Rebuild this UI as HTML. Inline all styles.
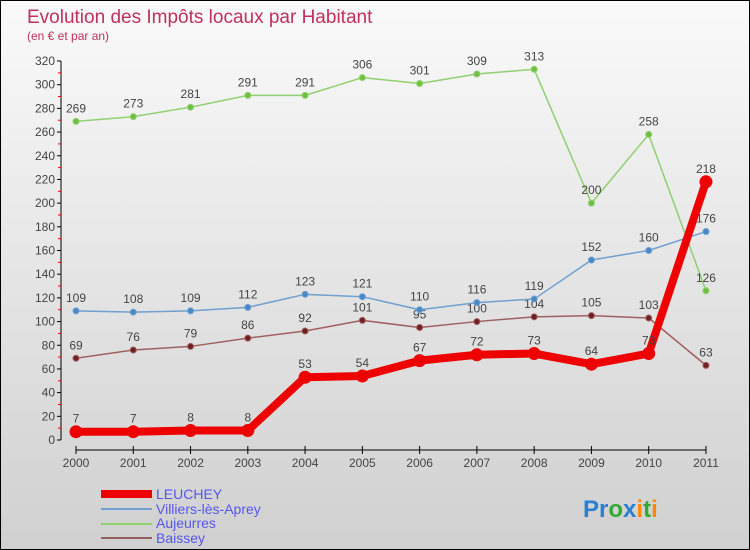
<!DOCTYPE html>
<html><head><meta charset="utf-8"><style>
body{margin:0}
#c{width:750px;height:550px;position:relative;box-sizing:border-box;border:1px solid #000;background:linear-gradient(#fafafa,#d0d0d0);font-family:"Liberation Sans",sans-serif;overflow:hidden}
</style></head><body>
<div id="c">
<svg width="750" height="550" style="position:absolute;left:0;top:0" id="svg">
<text x="26" y="22" font-size="19" fill="#c0305a">Evolution des Impôts locaux par Habitant</text>
<text x="26" y="39" font-size="12" fill="#c0305a">(en € et par an)</text>
<g id="axes"></g><g id="series"></g>
<g>
<rect x="100" y="489" width="51" height="8" fill="#e00"/>
<text x="155" y="498" font-size="14" fill="#5555ee">LEUCHEY</text>
<line x1="100" y1="508" x2="151" y2="508" stroke="#6fa0d0" stroke-width="2"/>
<text x="155" y="513" font-size="14" fill="#5555ee">Villiers-lès-Aprey</text>
<line x1="100" y1="523" x2="151" y2="523" stroke="#8fd070" stroke-width="2"/>
<text x="155" y="527" font-size="14" fill="#5555ee">Aujeurres</text>
<line x1="100" y1="537" x2="151" y2="537" stroke="#906060" stroke-width="2"/>
<text x="155" y="542" font-size="14" fill="#5555ee">Baissey</text>
</g>
<text x="582" y="516" font-size="24" font-weight="bold"><tspan fill="#2a7fd0">Pr</tspan><tspan fill="#3a3">o</tspan><tspan fill="#2a7fd0">x</tspan><tspan fill="#f80">i</tspan><tspan fill="#3a3">t</tspan><tspan fill="#f80">i</tspan></text>
</svg>
</div>
<script>
const years=["2000","2001","2002","2003","2004","2005","2006","2007","2008","2009","2010","2011"];
const yTicks=[0,20,40,60,80,100,120,140,160,180,200,220,240,260,280,300,320];
const leuchey=[7,7,8,8,53,54,67,72,73,64,73,218];
const villiers=[109,108,109,112,123,121,110,116,119,152,160,176];
const aujeurres=[269,273,281,291,291,306,301,309,313,200,258,126];
const baissey=[69,76,79,86,92,101,95,100,104,105,103,63];
const NS="http://www.w3.org/2000/svg";
const X=i=>75+i*57.27, Y=v=>439-v*379/320;
function mk(tag,attrs,parent){const e=document.createElementNS(NS,tag);for(const k in attrs)e.setAttribute(k,attrs[k]);parent.appendChild(e);return e;}
const ax=document.getElementById('axes');
let l=mk('line',{x1:60,y1:Y(320),x2:60,y2:Y(0),stroke:'#000'},ax);


l=mk('line',{x1:75,y1:449,x2:705,y2:449,stroke:'#000'},ax);


yTicks.forEach((t,i)=>{
 const tk=mk('line',{x1:56,y1:Y(t),x2:60,y2:Y(t),stroke:'#000'},ax);
 
 
 if(i<yTicks.length-1){const m=mk('line',{x1:57,y1:Y(t+10),x2:60,y2:Y(t+10),stroke:'#e00'},ax);
 
 }
 const tx=mk('text',{x:54,y:Y(t)+4,'text-anchor':'end','font-size':12,fill:'#444'},ax);tx.textContent=t;
 
 
});
years.forEach((y,i)=>{
 const tk=mk('line',{x1:X(i),y1:445,x2:X(i),y2:453,stroke:'#000'},ax);
 
 
 const tx=mk('text',{x:X(i),y:466,'text-anchor':'middle','font-size':12,fill:'#444'},ax);tx.textContent=y;
 
 
});
const sg=document.getElementById('series');
function draw(name,data,color,w,r,dot){
 const g=mk('g',{},sg);
 
 
 const p=mk('polyline',{points:data.map((v,i)=>X(i)+','+Y(v)).join(' '),fill:'none',stroke:color,'stroke-width':w,'stroke-linejoin':'round'},g);
 
 
 data.forEach((v,i)=>{
  const c=mk('circle',{cx:X(i),cy:Y(v),r:r,fill:dot,stroke:color,'stroke-width':1},g);
  
  
  const t=mk('text',{x:X(i),y:Y(v)-9,'text-anchor':'middle','font-size':12,fill:'#444'},g);t.textContent=v;
  
  
 });
}
draw('baissey',baissey,'#a06060',1.5,3,'#702020');
draw('aujeurres',aujeurres,'#8fd070',1.5,3,'#70c040');
draw('villiers',villiers,'#6fa0d0',1.5,3,'#4a88c8');
draw('leuchey',leuchey,'#e00',8,6,'#e00');
</script>
</body></html>
